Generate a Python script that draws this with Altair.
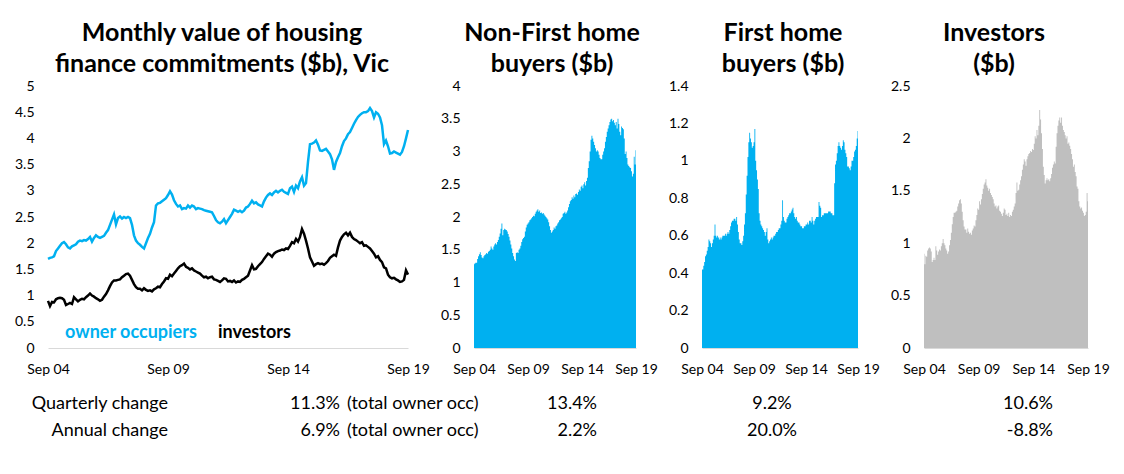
import json
import altair as alt
import pandas as pd

# ---------------- data (monthly, Sep 2004 .. Sep 2019) ----------------
x_labels = ["Sep 04", "Sep 09", "Sep 14", "Sep 19"]

owner_occupiers = [
    1.70, 1.72, 1.73, 1.75, 1.85, 1.90, 1.95, 2.00, 2.02, 1.98, 1.92, 1.90,
    1.94, 1.96, 1.98, 2.03, 2.05, 2.04, 2.06, 2.05, 2.08, 2.12, 2.03, 2.10,
    2.15, 2.12, 2.10, 2.12, 2.14, 2.20, 2.25, 2.35, 2.45, 2.55, 2.36, 2.48,
    2.51, 2.47, 2.50, 2.48, 2.50, 2.48, 2.35, 2.15, 2.05, 2.00, 1.97, 1.93,
    1.90, 2.00, 2.10, 2.18, 2.30, 2.40, 2.72, 2.76, 2.77, 2.80, 2.83, 2.86,
    2.92, 2.99, 2.93, 2.82, 2.75, 2.70, 2.72, 2.65, 2.67, 2.66, 2.72, 2.68,
    2.72, 2.70, 2.65, 2.67, 2.66, 2.65, 2.63, 2.62, 2.61, 2.60, 2.59, 2.52,
    2.44, 2.40, 2.38, 2.41, 2.46, 2.38, 2.44, 2.50, 2.56, 2.64, 2.62, 2.60,
    2.62, 2.59, 2.62, 2.68, 2.70, 2.75, 2.81, 2.76, 2.78, 2.74, 2.72, 2.70,
    2.80, 2.87, 2.92, 2.95, 2.92, 2.97, 3.00, 2.97, 3.00, 3.02, 2.98, 2.96,
    2.94, 3.05, 3.08, 2.98, 3.10, 3.05, 3.18, 3.26, 3.10, 3.15, 3.55, 3.89,
    3.90, 3.92, 3.96, 3.88, 3.77, 3.76, 3.78, 3.80, 3.75, 3.70, 3.60, 3.40,
    3.55, 3.64, 3.72, 3.85, 3.95, 4.00, 4.08, 4.12, 4.20, 4.28, 4.35, 4.41,
    4.45, 4.48, 4.50, 4.50, 4.52, 4.58, 4.52, 4.40, 4.50, 4.47, 4.40, 4.25,
    3.89, 3.96, 3.85, 3.71, 3.72, 3.75, 3.73, 3.71, 3.69, 3.74, 3.85, 4.00,
    4.16,
]

investors = [
    0.90, 0.80, 0.88, 0.87, 0.93, 0.95, 0.96, 0.95, 0.92, 0.82, 0.84, 0.86,
    0.84, 0.97, 0.93, 0.89, 0.92, 0.94, 0.93, 0.97, 1.00, 1.04, 1.00, 0.98,
    0.95, 0.93, 0.90, 0.92, 0.98, 1.03, 1.10, 1.18, 1.25, 1.29, 1.29, 1.30,
    1.31, 1.35, 1.38, 1.41, 1.42, 1.38, 1.30, 1.22, 1.16, 1.13, 1.13, 1.10,
    1.14, 1.11, 1.09, 1.10, 1.08, 1.12, 1.14, 1.17, 1.16, 1.22, 1.27, 1.33,
    1.32, 1.40, 1.37, 1.42, 1.47, 1.52, 1.56, 1.58, 1.61, 1.55, 1.53, 1.50,
    1.52, 1.48, 1.46, 1.44, 1.42, 1.38, 1.35, 1.36, 1.33, 1.35, 1.36, 1.31,
    1.30, 1.28, 1.26, 1.29, 1.33, 1.32, 1.27, 1.28, 1.26, 1.29, 1.25, 1.27,
    1.26, 1.30, 1.32, 1.35, 1.38, 1.48, 1.58, 1.50, 1.51, 1.56, 1.60, 1.64,
    1.70, 1.75, 1.80, 1.78, 1.74, 1.80, 1.83, 1.85, 1.86, 1.88, 1.87, 1.90,
    1.89, 1.95, 2.02, 2.00, 2.08, 2.03, 2.12, 2.27, 2.18, 2.05, 1.90, 1.73,
    1.65, 1.57, 1.60, 1.62, 1.60, 1.61, 1.59, 1.62, 1.66, 1.72, 1.75, 1.78,
    1.76, 1.92, 2.05, 2.12, 2.17, 2.20, 2.15, 2.20, 2.12, 2.08, 2.06, 2.03,
    2.00, 2.02, 1.95, 1.96, 1.93, 1.90, 1.85, 1.80, 1.73, 1.75, 1.68, 1.64,
    1.54, 1.52, 1.40, 1.35, 1.33, 1.34, 1.31, 1.29, 1.26, 1.27, 1.30, 1.48,
    1.40,
]

non_first_home_buyers = [
    1.28, 1.29, 1.30, 1.30, 1.36, 1.40, 1.43, 1.46, 1.42, 1.38, 1.37, 1.40,
    1.42, 1.43, 1.45, 1.44, 1.47, 1.48, 1.50, 1.55, 1.52, 1.50, 1.55, 1.58,
    1.60, 1.58, 1.62, 1.65, 1.70, 1.75, 1.82, 1.90, 1.72, 1.80, 1.82, 1.81,
    1.80, 1.78, 1.74, 1.70, 1.64, 1.58, 1.52, 1.45, 1.40, 1.35, 1.33, 1.45,
    1.46, 1.45, 1.50, 1.52, 1.56, 1.62, 1.66, 1.68, 1.70, 1.78, 1.84, 1.88,
    1.90, 1.92, 1.95, 1.96, 1.98, 2.00, 2.02, 2.01, 2.05, 2.08, 2.10, 2.12,
    2.08, 2.10, 2.06, 2.07, 2.05, 2.06, 2.04, 2.02, 2.00, 1.98, 1.96, 1.92,
    1.86, 1.80, 1.76, 1.78, 1.80, 1.84, 1.82, 1.86, 1.87, 1.90, 1.92, 1.95,
    1.96, 1.98, 2.00, 2.05, 2.06, 2.08, 2.05, 2.07, 2.10, 2.15, 2.20, 2.24,
    2.26, 2.30, 2.28, 2.33, 2.30, 2.35, 2.36, 2.34, 2.38, 2.42, 2.40, 2.46,
    2.48, 2.44, 2.50, 2.53, 2.48, 2.55, 2.60, 2.75, 2.85, 3.00, 3.18, 3.24,
    3.20, 3.15, 3.10, 3.05, 3.00, 3.02, 3.00, 2.95, 2.90, 2.88, 2.88, 2.95,
    3.00, 3.05, 3.15, 3.22, 3.30, 3.35, 3.40, 3.45, 3.49, 3.50, 3.46, 3.48,
    3.44, 3.40, 3.45, 3.35, 3.50, 3.42, 3.30, 3.25, 3.38, 3.36, 3.34, 3.20,
    2.96, 3.00, 2.90, 2.80, 2.78, 2.76, 2.75, 2.70, 2.62, 2.66, 2.92, 2.80,
    3.02,
]

first_home_buyers = [
    0.42, 0.42, 0.44, 0.46, 0.49, 0.50, 0.52, 0.54, 0.58, 0.57, 0.56, 0.54,
    0.56, 0.58, 0.60, 0.66, 0.60, 0.59, 0.60, 0.59, 0.58, 0.59, 0.58, 0.59,
    0.60, 0.60, 0.60, 0.61, 0.60, 0.61, 0.62, 0.61, 0.63, 0.65, 0.67, 0.68,
    0.68, 0.69, 0.69, 0.68, 0.70, 0.66, 0.62, 0.58, 0.56, 0.56, 0.55, 0.57,
    0.60, 0.66, 0.72, 0.82, 0.92, 1.02, 1.10, 1.15, 1.12, 1.10, 1.07, 1.08,
    1.10, 1.17, 1.00, 0.95, 0.90, 0.85, 0.72, 0.68, 0.66, 0.65, 0.64, 0.63,
    0.62, 0.60, 0.62, 0.64, 0.58, 0.56, 0.57, 0.58, 0.59, 0.58, 0.59, 0.60,
    0.60, 0.61, 0.62, 0.62, 0.63, 0.64, 0.64, 0.66, 0.68, 0.79, 0.70, 0.68,
    0.67, 0.67, 0.69, 0.70, 0.71, 0.72, 0.72, 0.73, 0.74, 0.75, 0.72, 0.70,
    0.69, 0.70, 0.68, 0.67, 0.67, 0.66, 0.65, 0.65, 0.64, 0.64, 0.65, 0.65,
    0.66, 0.66, 0.67, 0.66, 0.68, 0.68, 0.67, 0.70, 0.68, 0.66, 0.68, 0.69,
    0.70, 0.70, 0.70, 0.78, 0.76, 0.75, 0.70, 0.71, 0.71, 0.72, 0.72, 0.72,
    0.72, 0.72, 0.73, 0.73, 0.73, 0.72, 0.72, 0.71, 0.71, 0.88, 0.98, 1.00,
    1.04, 1.08, 1.10, 1.08, 1.07, 1.06, 1.08, 1.11, 1.10, 1.06, 1.04, 1.02,
    0.97, 0.97, 0.96, 0.95, 0.97, 1.00, 1.00, 1.02, 1.05, 1.06, 1.08, 1.12,
    1.16,
]

row_labels = ["Quarterly change", "Annual change"]
quarterly_change = ["11.3%", "13.4%", "9.2%", "10.6%"]
annual_change = ["6.9%", "2.2%", "20.0%", "-8.8%"]
owner_note = "(total owner occ)"
legend_labels = ["owner occupiers", "investors"]

titles = [
    ["Monthly value of housing", "finance commitments ($b), Vic"],
    ["Non-First home", "buyers ($b)"],
    ["First home", "buyers ($b)"],
    ["Investors", "($b)"],
]

df = pd.DataFrame({
    "m": list(range(len(owner_occupiers))),
    "owner": owner_occupiers,
    "investors": investors,
    "nonfirst": non_first_home_buyers,
    "first": first_home_buyers,
})

# ---------------- style ----------------
FONT = "Lato"
BLUE = "#00B0F0"
GREY = "#BFBFBF"
H = 262
ROW1 = 318
ROW2 = 345


def x_enc():
    return alt.X(
        "m:Q",
        scale=alt.Scale(domain=[0, 180], nice=False, zero=False),
        axis=alt.Axis(
            values=[0, 60, 120, 180],
            labelExpr=json.dumps(x_labels) + "[round(datum.value/60)]",
            title=None, ticks=False, tickSize=0, grid=False,
            domainColor="#D9D9D9", domainWidth=1,
            labelFont=FONT, labelFontSize=14, labelColor="#000",
            labelPadding=14, labelFlush=False, labelOverlap=False,
        ),
    )


def y_enc(field, top, vals, extent=40):
    return alt.Y(
        f"{field}:Q",
        scale=alt.Scale(domain=[0, top], nice=False),
        axis=alt.Axis(
            values=vals, format="~g", title=None, ticks=False, tickSize=0,
            domain=False, grid=False, labelFont=FONT, labelFontSize=14,
            labelColor="#000", labelPadding=14, labelOverlap=False,
            minExtent=extent, maxExtent=extent,
        ),
    )


def txt(text, x, y, align="left", color="#000", bold=False, size=18):
    return alt.Chart(pd.DataFrame({"t": [text]})).mark_text(
        align=align, baseline="middle", font=FONT, fontSize=size,
        fontWeight="bold" if bold else "normal", color=color,
    ).encode(x=alt.value(x), y=alt.value(y), text="t:N")


def title(lines, dx):
    return alt.TitleParams(
        text=lines, font=FONT, fontSize=25, fontWeight="bold", color="#000",
        anchor="middle", frame="group", dx=dx, offset=2, lineHeight=31,
    )


base = alt.Chart(df)

lines = base.transform_fold(
    ["owner", "investors"], as_=["series", "value"]
).mark_line(strokeWidth=2.5).encode(
    x=x_enc(),
    y=y_enc("value", 5, [0, 0.5, 1, 1.5, 2, 2.5, 3, 3.5, 4, 4.5, 5]),
    color=alt.Color("series:N", scale=alt.Scale(domain=["owner", "investors"],
                                                range=[BLUE, "#000"]), legend=None),
    detail="series:N",
)

p1 = alt.layer(
    lines,
    txt(legend_labels[0], 17, 247, color=BLUE, bold=True, size=18),
    txt(legend_labels[1], 170, 247, color="#000", bold=True, size=18),
    txt(row_labels[0], 120, ROW1, align="right"),
    txt(row_labels[1], 120, ROW2, align="right"),
    txt(quarterly_change[0], 292, ROW1, align="right"),
    txt(annual_change[0], 292, ROW2, align="right"),
    txt(owner_note, 299, ROW1),
    txt(owner_note, 299, ROW2),
).properties(width=360, height=H, title=title(titles[0], -6))

p2 = alt.layer(
    base.mark_area(color=BLUE, interpolate="step").encode(
        x=x_enc(), y=y_enc("nonfirst", 4, [0, 0.5, 1, 1.5, 2, 2.5, 3, 3.5, 4])),
    txt(quarterly_change[1], 123, ROW1, align="right"),
    txt(annual_change[1], 123, ROW2, align="right"),
).properties(width=162, height=H, title=title(titles[1], -3))

p3 = alt.layer(
    base.mark_area(color=BLUE, interpolate="step").encode(
        x=x_enc(), y=y_enc("first", 1.4, [0, 0.2, 0.4, 0.6, 0.8, 1, 1.2, 1.4])),
    txt(quarterly_change[2], 70, ROW1, align="center"),
    txt(annual_change[2], 70, ROW2, align="center"),
).properties(width=156, height=H, title=title(titles[2], 3))

p4 = alt.layer(
    base.mark_area(color=GREY, interpolate="step").encode(
        x=x_enc(), y=y_enc("investors", 2.5, [0, 0.5, 1, 1.5, 2, 2.5])),
    txt(quarterly_change[3], 129, ROW1, align="right"),
    txt(annual_change[3], 129, ROW2, align="right"),
).properties(width=164, height=H, title=title(titles[3], -12))

chart = alt.hconcat(p1, p2, p3, p4, spacing=66, bounds="flush").configure_view(
    stroke=None
).properties(
    padding={"left": 0, "top": 13, "right": 0, "bottom": 0},
    background="white",
)

chart.save("out.html", embed_options={"renderer": "svg", "actions": False})
